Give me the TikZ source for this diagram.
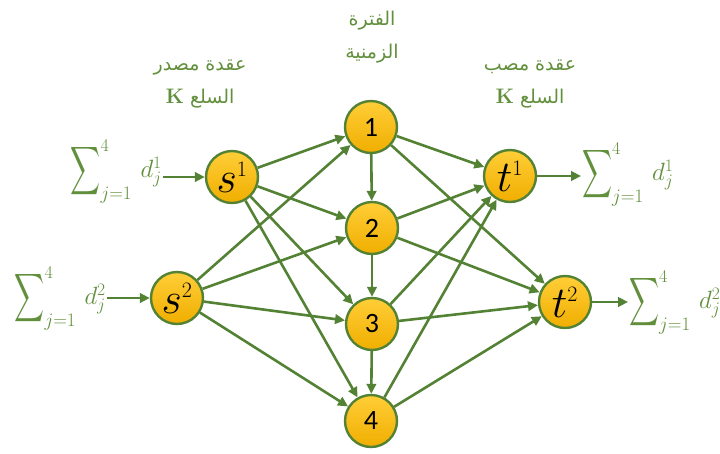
\RequirePackage{fix-cm}
\documentclass[tikz,border=0pt]{standalone}
\usepackage{fontspec}
\usepackage{graphicx}
\usetikzlibrary{arrows.meta}
\TeXXeTstate=1
\newfontfamily\arabicfont[Script=Arabic]{DejaVu Sans}
\newfontfamily\numfont{Carlito}
\definecolor{lg}{RGB}{84,130,53}
\definecolor{tg}{RGB}{98,143,60}
\definecolor{gtop}{RGB}{255,206,56}
\definecolor{gbot}{RGB}{240,174,0}
\newcommand{\Bsum}{\mathop{\vcenter{\hbox{\resizebox{30pt}{48pt}{$\displaystyle\sum$}}}}\nolimits}
\newcommand{\sumlab}[1]{$\Bsum_{\mbox{\fontsize{19}{19}\selectfont$j{=}1$}}^{\mbox{\fontsize{18}{18}\selectfont 4}}\, d_j^{#1}$}
\tikzset{
  nd/.style={circle, draw=lg, line width=2.4pt, top color=gtop, bottom color=gbot,
    minimum size=52pt, inner sep=0pt, text=black},
  numtxt/.style={font=\numfont\fontsize{28}{28}\selectfont},
  vartxt/.style={font=\fontsize{44}{44}\selectfont},
  edge/.style={draw=lg, line width=2.6pt, -{Triangle[length=10pt,width=9.5pt]}},
  lbl/.style={text=tg, align=center, font=\arabicfont\fontsize{19}{33}\selectfont},
  sumlbl/.style={text=tg, inner sep=1pt, font=\fontsize{25}{28}\selectfont}
}
\begin{document}
\begin{tikzpicture}[x=1pt,y=-1pt]
\useasboundingbox (0,0) rectangle (720,453);
% nodes
\node[nd,vartxt] (s1) at (232,177) {$s^{\scriptscriptstyle 1}$};
\node[nd,vartxt] (s2) at (177,298) {$s^{\scriptscriptstyle 2}$};
\node[nd,numtxt] (n1) at (371,127) {1};
\node[nd,numtxt] (n2) at (372,228) {2};
\node[nd,numtxt] (n3) at (372,324) {3};
\node[nd,numtxt] (n4) at (371,421) {4};
\node[nd,vartxt] (t1) at (510,176) {$t^{\scriptscriptstyle 1}$};
\node[nd,vartxt] (t2) at (565,302) {$t^{\scriptscriptstyle 2}$};
% labels
\node[lbl] (hdrT) at (372,37) {\beginR الفترة\endR\\ \beginR الزمنية\endR};
\node[lbl] (hdrS) at (200,84) {\beginR عقدة مصدر\endR\\ \beginR السلع {\normalfont\bfseries\fontsize{21}{33}\selectfont K}\endR};
\node[lbl] (hdrD) at (530,84) {\beginR عقدة مصب\endR\\ \beginR السلع {\normalfont\bfseries\fontsize{21}{33}\selectfont K}\endR};
% sum labels
\node[sumlbl, anchor=east] (L1) at (163,171) {\sumlab{1}};
\node[sumlbl, anchor=east] (L2) at (107,298) {\sumlab{2}};
\node[sumlbl, anchor=west] (R1) at (581,174) {\sumlab{1}};
\node[sumlbl, anchor=west] (R2) at (628,302) {\sumlab{2}};
% connectors
\draw[edge] (L1.east |- s1) -- (s1);
\draw[edge] (L2.east |- s2) -- (s2);
\draw[edge] (t1) -- (R1.west |- t1);
\draw[edge] (t2) -- (R2.west |- t2);
\foreach \a in {s1,s2}{
  \foreach \b in {n1,n2,n3,n4}{
    \draw[edge] (\a) -- (\b);
  }
}
\draw[edge] (n1) -- (n2);
\draw[edge] (n2) -- (n3);
\draw[edge] (n3) -- (n4);
\foreach \a in {n1,n2,n3,n4}{
  \foreach \b in {t1,t2}{
    \draw[edge] (\a) -- (\b);
  }
}
\end{tikzpicture}
\end{document}
